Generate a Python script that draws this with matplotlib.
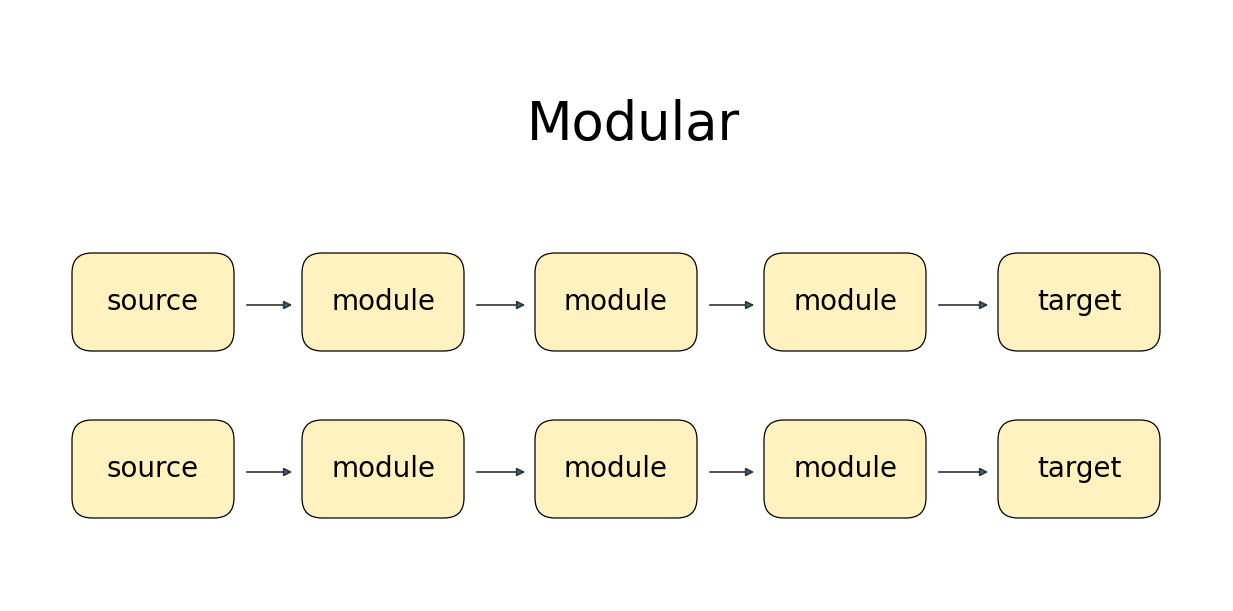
import matplotlib
matplotlib.use("Agg")
import matplotlib.pyplot as plt
from matplotlib.patches import FancyBboxPatch

title = "Modular"
row_labels = [
    ["source", "module", "module", "module", "target"],
    ["source", "module", "module", "module", "target"],
]

# layout in pixel coordinates
box_left = [72, 302, 535, 764, 998]
box_w, box_h = 162, 98
row_top = [253, 420]

fig = plt.figure(figsize=(12.33, 6.11), dpi=100)
ax = fig.add_axes([0, 0, 1, 1])
ax.set_xlim(0, 1233)
ax.set_ylim(611, 0)
ax.axis("off")

ax.text(634, 125, title, ha="center", va="center", fontsize=38)

for r, labels in enumerate(row_labels):
    top = row_top[r]
    cy = top + box_h / 2
    for i, lab in enumerate(labels):
        x = box_left[i]
        box = FancyBboxPatch((x + 20, top + 20), box_w - 40, box_h - 40,
                             boxstyle="round,pad=20", fc="#fff2bf", ec="black", lw=0.9)
        ax.add_patch(box)
        ax.text(x + box_w / 2, cy, lab, ha="center", va="center", fontsize=20)
        if i < len(labels) - 1:
            x0 = x + box_w + 10
            x1 = box_left[i + 1] - 7
            ax.annotate("", xy=(x1, cy + 3), xytext=(x0, cy + 3),
                        arrowprops=dict(arrowstyle="-|>", color="#333333", lw=1.2,
                                        mutation_scale=12, fc="#2a6f97"))

fig.savefig("out.png", dpi=100)
